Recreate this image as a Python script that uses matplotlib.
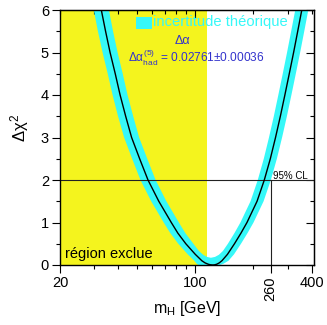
import matplotlib
matplotlib.use('Agg')
import matplotlib.pyplot as plt
from matplotlib.patches import Rectangle
from matplotlib.ticker import LogLocator, MultipleLocator, NullFormatter, FixedLocator

plt.rcParams['font.family'] = ['Liberation Sans', 'DejaVu Sans']
plt.rcParams['mathtext.fontset'] = 'custom'
plt.rcParams['mathtext.rm'] = 'Liberation Sans'
plt.rcParams['mathtext.it'] = 'Liberation Sans'
plt.rcParams['mathtext.bf'] = 'Liberation Sans:bold'

# -----------------------------------------------------------------------
# Data (m_H in GeV, delta chi2)
# -----------------------------------------------------------------------
fit_dchi2 = [6.0, 5.5, 5.0, 4.5, 4.0, 3.5, 3.0, 2.5, 2.0, 1.5, 1.0, 0.75, 0.5, 0.25,
             0.1, 0.05, 0.02, 0.005, 0.0, 0.005, 0.02, 0.05, 0.1,
             0.25, 0.5, 0.75, 1.0, 1.5, 2.0, 2.5, 3.0, 3.5, 4.0, 4.5, 5.0, 5.5, 6.0]
fit_mh = [32.7, 34.4, 36.3, 38.6, 40.9, 43.7, 46.9, 51.6, 57.0, 64.8, 75.2, 81.3, 89.4, 100.1,
          108.2, 112.4, 116.4, 119.7, 123.4, 126.3, 129.4, 133.1, 137.4,
          146.7, 159.5, 172.3, 185.1, 208.7, 227.5, 244.4, 260.0, 275.4, 290.6, 306.2, 322.4, 338.6, 355.4]

# theory band: outer (lower) envelope, left to right
band_outer_dchi2 = [6.0, 5.5, 5.0, 4.5, 4.0, 3.5, 3.0, 2.5, 2.0, 1.5, 1.0, 0.75, 0.5, 0.25, 0.1, 0.03,
                    0.0, 0.0,
                    0.03, 0.1, 0.25, 0.5, 0.75, 1.0, 1.5, 2.0, 2.5, 3.0, 3.5, 4.0, 4.5, 5.0, 5.5, 6.0]
band_outer_mh = [29.9, 31.4, 33.2, 35.3, 37.4, 39.9, 42.9, 47.2, 52.1, 59.2, 68.7, 74.3, 81.7, 91.5, 98.9, 101.8,
                 104.0, 134.0,
                 140.0, 148.5, 158.6, 172.4, 186.3, 200.1, 225.6, 245.9, 264.2, 281.1, 297.7, 314.1, 331.0, 348.5, 366.0, 384.2]
# theory band: inner (upper) envelope, left to right
band_inner_dchi2 = [6.0, 5.5, 5.0, 4.5, 4.0, 3.5, 3.0, 2.5, 2.0, 1.5, 1.0, 0.75, 0.5,
                    0.33, 0.24, 0.19, 0.17, 0.19, 0.24, 0.33,
                    0.5, 0.75, 1.0, 1.5, 2.0, 2.5, 3.0, 3.5, 4.0, 4.5, 5.0, 5.5, 6.0]
band_inner_mh = [35.8, 37.6, 39.7, 42.2, 44.7, 47.8, 51.3, 56.5, 62.4, 70.9, 82.3, 88.9, 97.8,
                 104.5, 110.0, 115.0, 120.5, 126.5, 132.5, 139.0,
                 147.5, 159.4, 171.2, 193.1, 210.5, 226.1, 240.5, 254.8, 268.8, 283.3, 298.2, 313.2, 328.8]

excluded_mh = 114.4          # direct search limit
cl_dchi2 = 2.0               # 95% CL level
limit_mh = 245               # where the "260" line sits on the picture's axis
limit_label = '260'

x_ticks = [20, 100, limit_mh, 400]
x_ticklabels = ['20', '100', limit_label, '400']

yellow = '#F4F41E'
cyan = '#36F8F8'
blue = '#3232CC'

# -----------------------------------------------------------------------
# Figure
# -----------------------------------------------------------------------
fig = plt.figure(figsize=(3.27, 3.25), dpi=100)
ax = fig.add_axes([60 / 327, 60 / 325, 254 / 327, 255 / 325])

ax.set_xscale('log')
ax.set_xlim(20, 411)
ax.set_ylim(0, 6)

ax.axvspan(20, excluded_mh, color=yellow, lw=0, zorder=0)

band_x = band_outer_mh + band_inner_mh[::-1]
band_y = band_outer_dchi2 + band_inner_dchi2[::-1]
ax.fill(band_x, band_y, color=cyan, lw=0, zorder=1)

ax.plot(fit_mh, fit_dchi2, color='black', lw=1.0, zorder=3)

ax.axhline(cl_dchi2, color='#222222', lw=0.8, zorder=2)
ax.plot([limit_mh, limit_mh], [0, cl_dchi2], color='#222222', lw=0.8, zorder=2)

# ticks
ax.set_xticks(x_ticks)
ax.set_xticklabels(x_ticklabels)
for lab in ax.get_xticklabels():
    if lab.get_text() == limit_label:
        lab.set_rotation(90)
ax.xaxis.set_minor_locator(LogLocator(base=10, subs=range(2, 10)))
ax.xaxis.set_minor_formatter(NullFormatter())
ax.yaxis.set_major_locator(MultipleLocator(1))
ax.yaxis.set_minor_locator(MultipleLocator(0.5))
ax.tick_params(which='both', direction='out', labelsize=10.5, width=0.8, color='black')
ax.tick_params(which='major', length=6, pad=2)
ax.tick_params(which='minor', length=3)
for sp in ax.spines.values():
    sp.set_linewidth(1.0)

secx = ax.secondary_xaxis('top')
secx.xaxis.set_major_locator(FixedLocator([100]))
secx.xaxis.set_minor_locator(LogLocator(base=10, subs=range(2, 10)))
secx.xaxis.set_minor_formatter(NullFormatter())
secx.tick_params(which='both', direction='in', labeltop=False, width=0.8)
secx.tick_params(which='major', length=6)
secx.tick_params(which='minor', length=3)

secy = ax.secondary_yaxis('right')
secy.yaxis.set_major_locator(MultipleLocator(1))
secy.yaxis.set_minor_locator(MultipleLocator(0.5))
secy.tick_params(which='both', direction='in', labelright=False, width=0.8)
secy.tick_params(which='major', length=6)
secy.tick_params(which='minor', length=3)

# labels
fig.text(187 / 327, 1 - 309 / 325, r'm$_\mathrm{H}$ [GeV]', ha='center', va='center', fontsize=11.5)
fig.text(20 / 327, 1 - 128 / 325, r'$\Delta\chi^2$', ha='center', va='center',
         rotation=90, fontsize=12)

# legend / annotations
ax.add_patch(Rectangle((0.299, 0.925), 0.063, 0.047, transform=ax.transAxes,
                       color=cyan, lw=0, zorder=4))
ax.text(0.368, 0.951, 'incertitude théorique', transform=ax.transAxes, color=cyan,
        fontsize=10.6, ha='left', va='center', zorder=4)
ax.text(0.484, 0.878, 'Δα', transform=ax.transAxes, color=blue,
        fontsize=9, ha='center', va='center', zorder=4)
ax.text(0.268, 0.812, r'$\Delta\alpha^{(5)}_{\mathrm{had}}$ = 0.02761±0.00036',
        transform=ax.transAxes, color=blue, fontsize=8.6, ha='left', va='center', zorder=4)

ax.text(0.02, 0.027, 'région exclue', transform=ax.transAxes, color='black',
        fontsize=10.5, ha='left', va='baseline', zorder=4)
ax.text(0.839, 0.337, '95% CL', transform=ax.transAxes, color='black',
        fontsize=7, ha='left', va='baseline', zorder=4)

fig.savefig('out.png', dpi=100)
